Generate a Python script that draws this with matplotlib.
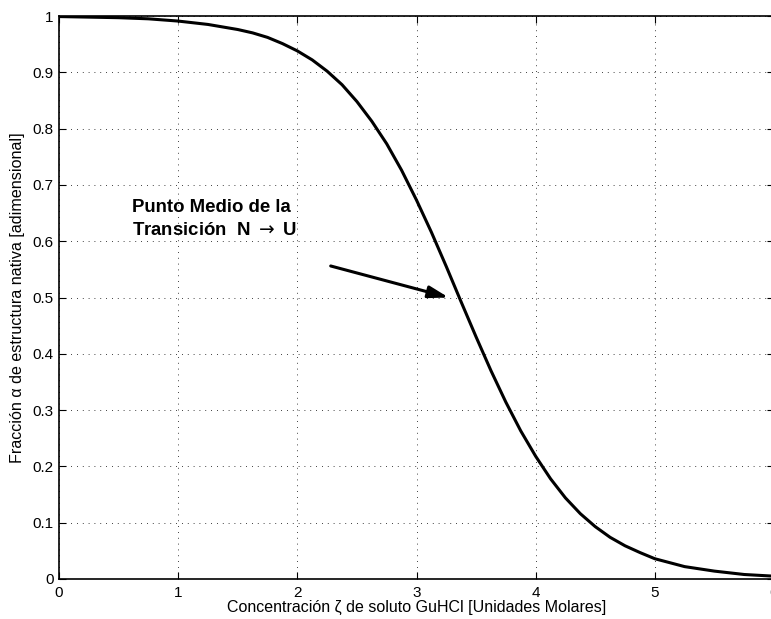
import matplotlib
matplotlib.use("Agg")
import matplotlib.pyplot as plt

plt.rcParams['font.family'] = ['Liberation Sans', 'DejaVu Sans']

# Data
conc = [0.0, 0.25, 0.5, 0.75, 1.0, 1.25, 1.5, 1.625, 1.75, 1.875,
        2.0, 2.125, 2.25, 2.375, 2.5, 2.625, 2.75, 2.875,
        3.0, 3.125, 3.25, 3.375, 3.5, 3.625, 3.75, 3.875,
        4.0, 4.125, 4.25, 4.375, 4.5, 4.625, 4.75, 4.875,
        5.0, 5.25, 5.5, 5.75, 6.0]
alpha = [0.999, 0.998, 0.997, 0.995, 0.991, 0.985, 0.976, 0.970, 0.962, 0.951,
         0.938, 0.922, 0.902, 0.878, 0.848, 0.813, 0.773, 0.726,
         0.673, 0.616, 0.555, 0.492, 0.430, 0.370, 0.314, 0.263,
         0.218, 0.178, 0.144, 0.116, 0.093, 0.074, 0.059, 0.047,
         0.036, 0.022, 0.014, 0.008, 0.005]

xticks = [0, 1, 2, 3, 4, 5, 6]
yticks = [0, 0.1, 0.2, 0.3, 0.4, 0.5, 0.6, 0.7, 0.8, 0.9, 1]
ytick_labels = ['0', '0.1', '0.2', '0.3', '0.4', '0.5', '0.6', '0.7', '0.8', '0.9', '1']

arrow_tail = (2.28, 0.556)
arrow_head = (3.27, 0.50)
note_x = 0.61
note_line1 = ("Punto Medio de la", 0.652)
note_line2 = ("Transición  N$\\;\\rightarrow\\;$U", 0.611)

W, H = 771, 619
fig = plt.figure(figsize=(W / 100, H / 100), dpi=100)
ax = fig.add_axes([59 / W, (H - 579) / H, (774 - 59) / W, (579 - 16) / H])

ax.plot(conc, alpha, color='black', lw=2.2, solid_joinstyle='round')

ax.set_xlim(0, 6)
ax.set_ylim(0, 1)
ax.set_xticks(xticks)
ax.set_xticklabels([str(t) for t in xticks])
ax.set_yticks(yticks)
ax.set_yticklabels(ytick_labels)
ax.grid(True, color='black', linestyle=(0, (1, 6)), lw=0.6)
ax.tick_params(direction='in', length=5, width=0.8, top=True, right=True,
               labelsize=11, colors='black')
ax.tick_params(axis='x', pad=5)
ax.tick_params(axis='y', pad=4)
for s in ax.spines.values():
    s.set_linewidth(1.2)

ax.set_xlabel("Concentración ζ de soluto GuHCl [Unidades Molares]", fontsize=11.5, labelpad=0)
ax.set_ylabel("Fracción α de estructura nativa [adimensional]", fontsize=11.6, labelpad=5)

ax.annotate("", xy=arrow_head, xytext=arrow_tail,
            arrowprops=dict(arrowstyle='-|>,head_length=1.2,head_width=0.36',
                            color='black', lw=2.2, shrinkA=0, shrinkB=0))
for txt, yy in (note_line1, note_line2):
    ax.text(note_x, yy, txt, fontsize=13.4, fontweight='bold',
            ha='left', va='baseline')

fig.savefig("out.png", dpi=100)
